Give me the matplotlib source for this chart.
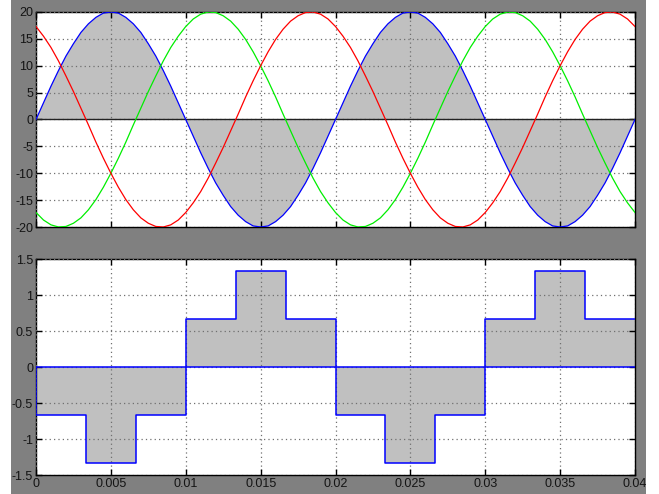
import matplotlib
matplotlib.use("Agg")
import matplotlib.pyplot as plt
from matplotlib.patches import Rectangle
import numpy as np

plt.rcParams['font.family'] = ['Liberation Sans', 'DejaVu Sans']
plt.rcParams['axes.unicode_minus'] = False

# --- three-phase voltages, sampled every 0.5 ms over two cycles ---
t_ms_step = 0.0005
time = [round(i * t_ms_step, 4) for i in range(81)]

phase_a = [0.0, 3.1, 6.2, 9.1, 11.8, 14.1, 16.2, 17.8, 19.0, 19.8,
           20.0, 19.8, 19.0, 17.8, 16.2, 14.1, 11.8, 9.1, 6.2, 3.1,
           0.0, -3.1, -6.2, -9.1, -11.8, -14.1, -16.2, -17.8, -19.0, -19.8,
           -20.0, -19.8, -19.0, -17.8, -16.2, -14.1, -11.8, -9.1, -6.2, -3.1,
           0.0, 3.1, 6.2, 9.1, 11.8, 14.1, 16.2, 17.8, 19.0, 19.8,
           20.0, 19.8, 19.0, 17.8, 16.2, 14.1, 11.8, 9.1, 6.2, 3.1,
           0.0, -3.1, -6.2, -9.1, -11.8, -14.1, -16.2, -17.8, -19.0, -19.8,
           -20.0, -19.8, -19.0, -17.8, -16.2, -14.1, -11.8, -9.1, -6.2, -3.1,
           0.0]

phase_b = [-17.3, -18.7, -19.6, -20.0, -19.9, -19.3, -18.3, -16.8, -14.9, -12.6,
           -10.0, -7.2, -4.2, -1.0, 2.1, 5.2, 8.1, 10.9, 13.4, 15.5,
           17.3, 18.7, 19.6, 20.0, 19.9, 19.3, 18.3, 16.8, 14.9, 12.6,
           10.0, 7.2, 4.2, 1.0, -2.1, -5.2, -8.1, -10.9, -13.4, -15.5,
           -17.3, -18.7, -19.6, -20.0, -19.9, -19.3, -18.3, -16.8, -14.9, -12.6,
           -10.0, -7.2, -4.2, -1.0, 2.1, 5.2, 8.1, 10.9, 13.4, 15.5,
           17.3, 18.7, 19.6, 20.0, 19.9, 19.3, 18.3, 16.8, 14.9, 12.6,
           10.0, 7.2, 4.2, 1.0, -2.1, -5.2, -8.1, -10.9, -13.4, -15.5,
           -17.3]

phase_c = [17.3, 15.5, 13.4, 10.9, 8.1, 5.2, 2.1, -1.0, -4.2, -7.2,
           -10.0, -12.6, -14.9, -16.8, -18.3, -19.3, -19.9, -20.0, -19.6, -18.7,
           -17.3, -15.5, -13.4, -10.9, -8.1, -5.2, -2.1, 1.0, 4.2, 7.2,
           10.0, 12.6, 14.9, 16.8, 18.3, 19.3, 19.9, 20.0, 19.6, 18.7,
           17.3, 15.5, 13.4, 10.9, 8.1, 5.2, 2.1, -1.0, -4.2, -7.2,
           -10.0, -12.6, -14.9, -16.8, -18.3, -19.3, -19.9, -20.0, -19.6, -18.7,
           -17.3, -15.5, -13.4, -10.9, -8.1, -5.2, -2.1, 1.0, 4.2, 7.2,
           10.0, 12.6, 14.9, 16.8, 18.3, 19.3, 19.9, 20.0, 19.6, 18.7,
           17.3]

# --- six-step output, levels held from each switching instant ---
step_times = [0.0, 0.00333, 0.00667, 0.01, 0.01333, 0.01667,
              0.02, 0.02333, 0.02667, 0.03, 0.03333, 0.03667, 0.04]
step_levels = [-0.667, -1.333, -0.667, 0.667, 1.333, 0.667,
               -0.667, -1.333, -0.667, 0.667, 1.333, 0.667, 0.667]

x_ticks = [0, 0.005, 0.01, 0.015, 0.02, 0.025, 0.03, 0.035, 0.04]
x_tick_labels = ['0', '0.005', '0.01', '0.015', '0.02', '0.025', '0.03', '0.035', '0.04']
top_y_ticks = [-20, -15, -10, -5, 0, 5, 10, 15, 20]
top_y_labels = ['-20', '-15', '-10', '-5', '0', '5', '10', '15', '20']
bot_y_ticks = [-1.5, -1, -0.5, 0, 0.5, 1, 1.5]
bot_y_labels = ['-1.5', '-1', '-0.5', '0', '0.5', '1', '1.5']

W, H = 659, 494
fig = plt.figure(figsize=(W / 100, H / 100), dpi=100, facecolor='white')
fig.patches.append(Rectangle((11 / W, 0), (646 - 11) / W, 1, transform=fig.transFigure,
                             facecolor='#808080', edgecolor='none', zorder=-10))

left = 36 / W
width = (635 - 36) / W
ax1 = fig.add_axes([left, (H - 227) / H, width, (227 - 12) / H])
ax2 = fig.add_axes([left, (H - 475) / H, width, (475 - 259) / H])
ax1.set_zorder(1)
ax2.set_zorder(1)

fill_grey = '#c0c0c0'
label_color = '#141414'


def style_axes(ax, yticks, ylabels, show_x):
    ax.set_facecolor('white')
    ax.set_xlim(0, 0.04)
    ax.set_xticks(x_ticks)
    ax.set_yticks(yticks)
    ax.set_yticklabels(ylabels)
    if show_x:
        ax.set_xticklabels(x_tick_labels)
    else:
        ax.set_xticklabels([])
    ax.tick_params(direction='in', length=4, width=1, color='black',
                   top=True, right=True, labelsize=9, labelcolor=label_color, pad=2)
    ax.tick_params(axis='x', pad=2)
    for s in ax.spines.values():
        s.set_color('black')
        s.set_linewidth(1)
    ax.set_axisbelow(False)
    ax.grid(True, color='#707070', linestyle=(0, (1, 2.5)), linewidth=0.9)


# Top: phase voltages with the first phase shaded against zero
ax1.fill_between(time, phase_a, 0, facecolor=fill_grey, edgecolor='none', zorder=1)
ax1.axhline(0, color='#222222', linewidth=1.0, zorder=2.6)
ax1.plot(time, phase_a, color='#0000ff', linewidth=0.9, zorder=3)
ax1.plot(time, phase_b, color='#00ee00', linewidth=0.9, zorder=3)
ax1.plot(time, phase_c, color='#ff0000', linewidth=0.9, zorder=3)
ax1.set_ylim(-20, 20)
style_axes(ax1, top_y_ticks, top_y_labels, False)

# Bottom: stepped waveform drawn as a filled area with a blue outline
ax2.fill_between(step_times, step_levels, 0, step='post', facecolor=fill_grey,
                 edgecolor='none', zorder=1)
ax2.step(step_times, step_levels, where='post', color='#0000ff', linewidth=1.1, zorder=3)
ax2.axhline(0, color='#0000ff', linewidth=1.1, zorder=3)
ax2.plot([0, 0], [0, step_levels[0]], color='#0000ff', linewidth=1.1, zorder=3)
ax2.set_ylim(-1.5, 1.5)
style_axes(ax2, bot_y_ticks, bot_y_labels, True)

fig.savefig('out.png', dpi=100, facecolor=fig.get_facecolor())
